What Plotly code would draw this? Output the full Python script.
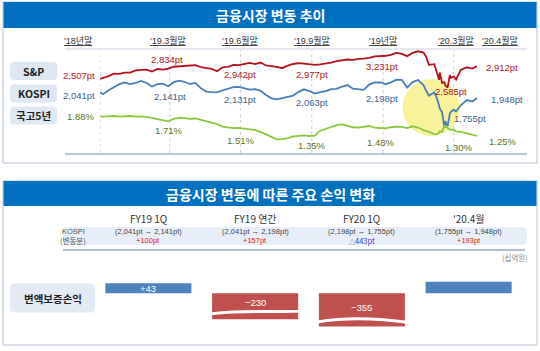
import plotly.graph_objects as go

W, H = 540, 351
def X(px): return px / W
def Y(py): return 1 - py / H

FONT = "Liberation Sans, Noto Sans CJK KR, Arial, sans-serif"
KFONT = "Noto Sans CJK KR, Liberation Sans, sans-serif"

# ---------------- data: market trend ----------------
dates = [
    "2018-12-31", "2019-01-04", "2019-01-11", "2019-01-18", "2019-01-25", "2019-02-01", "2019-02-08",
    "2019-02-15", "2019-02-22", "2019-03-01", "2019-03-08", "2019-03-15", "2019-03-22", "2019-03-29",
    "2019-04-05", "2019-04-12", "2019-04-19", "2019-04-26", "2019-05-03", "2019-05-10", "2019-05-17",
    "2019-05-24", "2019-05-31", "2019-06-07", "2019-06-14", "2019-06-21", "2019-06-28",
    "2019-07-05", "2019-07-12", "2019-07-19", "2019-07-26", "2019-08-02", "2019-08-09", "2019-08-16",
    "2019-08-23", "2019-08-30", "2019-09-06", "2019-09-13", "2019-09-20", "2019-09-27",
    "2019-10-04", "2019-10-11", "2019-10-18", "2019-10-25", "2019-11-01", "2019-11-08", "2019-11-15",
    "2019-11-22", "2019-11-29", "2019-12-06", "2019-12-13", "2019-12-20", "2019-12-27", "2019-12-31",
    "2020-01-03", "2020-01-10", "2020-01-17", "2020-01-24", "2020-01-31", "2020-02-07", "2020-02-14",
    "2020-02-21", "2020-02-24", "2020-02-28",
    "2020-03-06", "2020-03-09", "2020-03-12", "2020-03-13", "2020-03-16", "2020-03-19", "2020-03-20",
    "2020-03-23", "2020-03-26", "2020-03-27", "2020-03-31",
    "2020-04-03", "2020-04-09", "2020-04-17", "2020-04-24", "2020-04-30",
]
sp500 = [
    2507, 2532, 2596, 2671, 2665, 2707, 2708, 2776, 2793, 2804, 2743, 2822, 2801, 2834,
    2893, 2907, 2905, 2940, 2946, 2881, 2860, 2826, 2752, 2873, 2887, 2950, 2942,
    2990, 3014, 2977, 3026, 2932, 2919, 2889, 2847, 2926, 2979, 3007, 2992, 2962,
    2952, 2970, 2986, 3023, 3067, 3093, 3120, 3110, 3141, 3146, 3169, 3221, 3240, 3231,
    3235, 3265, 3330, 3295, 3226, 3328, 3380, 3338, 3226, 2954,
    2972, 2747, 2481, 2711, 2386, 2409, 2305, 2237, 2630, 2541, 2585,
    2489, 2790, 2875, 2837, 2912,
]
kospi = [
    2041, 2010, 2075, 2124, 2177, 2203, 2177, 2196, 2230, 2195, 2137, 2176, 2186, 2141,
    2209, 2233, 2216, 2179, 2196, 2108, 2055, 2045, 2041, 2072, 2095, 2126, 2131,
    2110, 2086, 2094, 2066, 1998, 1943, 1927, 1948, 1967, 1988, 2049, 2091, 2063,
    2021, 2044, 2061, 2094, 2100, 2137, 2162, 2101, 2087, 2082, 2170, 2205, 2204, 2198,
    2176, 2206, 2250, 2246, 2119, 2211, 2243, 2162, 2079, 1987,
    2040, 1954, 1834, 1771, 1714, 1457, 1566, 1482, 1686, 1717, 1755,
    1725, 1827, 1914, 1889, 1948,
]
ktb5 = [
    1.88, 1.87, 1.88, 1.89, 1.87, 1.88, 1.89, 1.87, 1.88, 1.86, 1.83, 1.80, 1.76, 1.72,
    1.80, 1.83, 1.82, 1.80, 1.81, 1.77, 1.72, 1.68, 1.63, 1.55, 1.53, 1.50, 1.51,
    1.49, 1.47, 1.44, 1.38, 1.30, 1.24, 1.14, 1.15, 1.18, 1.24, 1.26, 1.27, 1.25,
    1.26, 1.42, 1.48, 1.55, 1.60, 1.62, 1.57, 1.53, 1.52, 1.55, 1.57, 1.52, 1.50, 1.51,
    1.49, 1.53, 1.55, 1.54, 1.50, 1.56, 1.52, 1.44, 1.42, 1.38,
    1.31, 1.30, 1.35, 1.40, 1.38, 1.59, 1.55, 1.50, 1.47, 1.45, 1.45,
    1.40, 1.38, 1.33, 1.30, 1.25,
]

period_labels = ["'18년말", "'19.3월말", "'19.6월말", "'19.9월말", "'19년말", "'20.3월말", "'20.4월말"]
period_dates = ["2018-12-31", "2019-03-31", "2019-06-30", "2019-09-30", "2019-12-31", "2020-03-31", "2020-04-30"]
sp_marks = [2507, 2834, 2942, 2977, 3231, 2585, 2912]
kospi_marks = [2041, 2141, 2131, 2063, 2198, 1755, 1948]
ktb_marks = [1.88, 1.71, 1.51, 1.35, 1.48, 1.30, 1.25]
series_names = ["S&P", "KOSPI", "국고5년"]

# ---------------- data: P&L change ----------------
pl_periods = ["FY19 1Q", "FY19 연간", "FY20 1Q", "'20.4월"]
kospi_from = [2041, 2041, 2198, 1755]
kospi_to = [2141, 2198, 1755, 1948]
pl_values = [43, -230, -355, 56]
pl_show_label = [True, True, True, False]
pl_row_name = "변액보증손익"

# colors
BLUE_BAR = "#0070C0"
C_SP, C_KO, C_KT = "#b5121b", "#4a7ebb", "#8cc63f"
T_SP, T_KO, T_KT = "#b0161c", "#3c5f8c", "#5b7320"

fig = go.Figure()

fig.add_trace(go.Scatter(x=dates, y=sp500, mode="lines", line=dict(color=C_SP, width=1.8),
                         xaxis="x", yaxis="y", hoverinfo="skip"))
fig.add_trace(go.Scatter(x=dates, y=kospi, mode="lines", line=dict(color=C_KO, width=1.8),
                         xaxis="x", yaxis="y2", hoverinfo="skip"))
fig.add_trace(go.Scatter(x=dates, y=ktb5, mode="lines", line=dict(color=C_KT, width=1.8),
                         xaxis="x", yaxis="y3", hoverinfo="skip"))

# broken / compressed axis of the original: heights shrink for large values
def disp(v):
    s = 1 if v >= 0 else -1
    return s * 10 * (abs(v) / 43) ** 0.57

fig.add_trace(go.Bar(x=pl_periods, y=[disp(v) for v in pl_values],
                     marker=dict(color=["#4f81bd" if v >= 0 else "#c0504d" for v in pl_values], line=dict(width=0)),
                     xaxis="x2", yaxis="y4", hoverinfo="skip"))

dom_top = [Y(152), Y(50)]
fig.update_layout(
    width=W, height=H, margin=dict(l=0, r=0, t=0, b=0),
    paper_bgcolor="white", plot_bgcolor="rgba(0,0,0,0)", showlegend=False,
    xaxis=dict(domain=[X(100), X(477)], range=["2018-12-31", "2020-04-30"], type="date",
               visible=False, fixedrange=True),
    yaxis=dict(domain=dom_top, range=[207, 3420], visible=False),
    yaxis2=dict(overlaying="y", range=[1057, 2740], visible=False),
    yaxis3=dict(overlaying="y", range=[0.7376, 4.002], visible=False),
    xaxis2=dict(domain=[X(95), X(522)], anchor="y4", visible=False, type="category"),
    yaxis4=dict(domain=[Y(340), Y(260)], range=[-46.7, 33.3], anchor="x2", visible=False),
    bargap=0.194,
)

shapes = []
ann = []

def rect(x0, y0, x1, y1, fill=None, line=None, lw=1, layer="below"):
    shapes.append(dict(type="rect", xref="paper", yref="paper", x0=X(x0), x1=X(x1), y0=Y(y1), y1=Y(y0),
                       fillcolor=fill if fill else "rgba(0,0,0,0)",
                       line=dict(color=line if line else "rgba(0,0,0,0)", width=lw if line else 0), layer=layer))

def rrect(x0, y0, x1, y1, r, fill):
    p = (f"M {X(x0+r)},{Y(y0)} L {X(x1-r)},{Y(y0)} Q {X(x1)},{Y(y0)} {X(x1)},{Y(y0+r)} "
         f"L {X(x1)},{Y(y1-r)} Q {X(x1)},{Y(y1)} {X(x1-r)},{Y(y1)} L {X(x0+r)},{Y(y1)} "
         f"Q {X(x0)},{Y(y1)} {X(x0)},{Y(y1-r)} L {X(x0)},{Y(y0+r)} Q {X(x0)},{Y(y0)} {X(x0+r)},{Y(y0)} Z")
    shapes.append(dict(type="path", xref="paper", yref="paper", path=p, fillcolor=fill,
                       line=dict(width=0), layer="below"))

def hline(x0, x1, y, color, w=1, dash="solid"):
    shapes.append(dict(type="line", xref="paper", yref="paper", x0=X(x0), x1=X(x1), y0=Y(y), y1=Y(y),
                       line=dict(color=color, width=w, dash=dash), layer="below"))

def txt(x, y, s, size=9, color="#333", xref="paper", xanchor="center", family=FONT, xshift=0):
    ann.append(dict(x=X(x) if xref == "paper" else x, y=Y(y), xref=xref, yref="paper", text=s,
                    showarrow=False, xanchor=xanchor, yanchor="middle", xshift=xshift,
                    font=dict(size=size, color=color, family=family)))

def wave(x0, x1, yl, ym1, ym2, yr, t):
    dx = (x1 - x0) / 3
    p = (f"M {X(x0)},{Y(yl)} C {X(x0+dx)},{Y(ym1)} {X(x0+2*dx)},{Y(ym2)} {X(x1)},{Y(yr)} "
         f"L {X(x1)},{Y(yr+t)} C {X(x0+2*dx)},{Y(ym2+t)} {X(x0+dx)},{Y(ym1+t)} {X(x0)},{Y(yl+t)} Z")
    shapes.append(dict(type="path", xref="paper", yref="paper", path=p, fillcolor="white",
                       line=dict(width=0), layer="above"))

# ---------- top panel ----------
rect(3, 2, 537, 163, line="#b4c2d4", lw=1)
rect(3.5, 2, 536.5, 28, fill=BLUE_BAR)
txt(270, 15, "<b>금융시장 변동 추이</b>", size=14, color="white", family=KFONT)
hline(65, 527, 49, "#c9d3e2", 1)
hline(65, 527, 154, "#a3b3c8", 1.5)
for d in period_dates[:-1]:
    shapes.append(dict(type="line", xref="x", yref="paper", x0=d, x1=d, y0=Y(153), y1=Y(50),
                       line=dict(color="#cfcfcf", width=1, dash="dot"), layer="below"))
shapes.append(dict(type="circle", xref="paper", yref="paper", x0=X(402.5), x1=X(459.5),
                   y0=Y(136), y1=Y(79), fillcolor="#f9f29c", line=dict(width=0), layer="below"))

head_shift = [-22, -2, 0, 0, 0, 2, 23]
for lab, d, sh in zip(period_labels, period_dates, head_shift):
    txt(d, 40, f"<u>{lab}</u>", size=9, color="#333", xref="x", xshift=sh)

row_y = [71, 93.5, 115.5]
for name, yy in zip(series_names, row_y):
    rrect(10, yy - 9, 57, yy + 9, 4, "#dfe7f2")
    txt(33.5, yy, f"<b>{name}</b>", size=10.5, color="#222", family=KFONT)

lab_x = {
    "sp": [79, 167, 240, 312, 382, 451, 502],
    "ko": [79, 170, 240, 312, 382, 470, 507],
    "kt": [80, 168, 240, 312, 380, 458, 502],
}
lab_y = {
    "sp": [75.5, 59.5, 74.5, 74.5, 66, 91, 67.5],
    "ko": [95.5, 96, 100, 103, 98, 118, 100],
    "kt": [117, 130.5, 140, 145.3, 142, 147.5, 141],
}
for i in range(7):
    txt(lab_x["sp"][i], lab_y["sp"][i], f"{sp_marks[i]:,}pt", size=9.5, color=T_SP)
    txt(lab_x["ko"][i], lab_y["ko"][i], f"{kospi_marks[i]:,}pt", size=9.5, color=T_KO)
    txt(lab_x["kt"][i], lab_y["kt"][i], f"{ktb_marks[i]:.2f}%", size=9.5, color=T_KT)

# ---------- bottom panel ----------
rect(3, 181, 537, 345, line="#b4c2d4", lw=1)
rect(3.5, 181, 536.5, 206, fill=BLUE_BAR)
txt(270, 194, "<b>금융시장 변동에 따른 주요 손익 변화</b>", size=14, color="white", family=KFONT)
rrect(63, 227, 527, 245, 4, "#e8eef7")
hline(63, 525, 250, "#9aa9bf", 1.5)
txt(73, 231.5, "KOSPI", size=7.5, color="#555")
txt(73, 240, "(변동분)", size=7.5, color="#555", family=KFONT)
txt(530, 257, "(십억원)", size=7.5, color="#888", xanchor="right", family=KFONT)

for per, a, b in zip(pl_periods, kospi_from, kospi_to):
    txt(per, 218.5, per, size=10, color="#333", xref="x2", family=KFONT)
    txt(per, 231.5, f"({a:,}pt → {b:,}pt)", size=7.5, color="#444", xref="x2")
    ch = b - a
    if ch >= 0:
        txt(per, 240, f"+{ch}pt", size=7.5, color="#e0201b", xref="x2")
    else:
        txt(per, 240, f"<span style='font-size:6px'>△</span>{-ch}pt", size=7.5, color="#2f3fbf",
            xref="x2", family=KFONT)

rrect(10, 283.5, 95, 312.5, 5, "#e3eaf4")
txt(52.5, 298, f"<b>{pl_row_name}</b>", size=10.5, color="#222", family=KFONT)

label_y = [288.3, 302, 307]
for per, v, show, ly in zip(pl_periods, pl_values, pl_show_label, label_y + [0]):
    if show:
        s = f"+{v}" if v >= 0 else f"−{-v}"
        txt(per, ly, s, size=9.5, color="white", xref="x2")

wave(210, 301, 312.5, 309, 310.5, 310, 2.8)
wave(317, 409, 320.5, 315.5, 317, 321, 3)

fig.update_layout(shapes=shapes, annotations=ann)
fig.write_html("out.html")
